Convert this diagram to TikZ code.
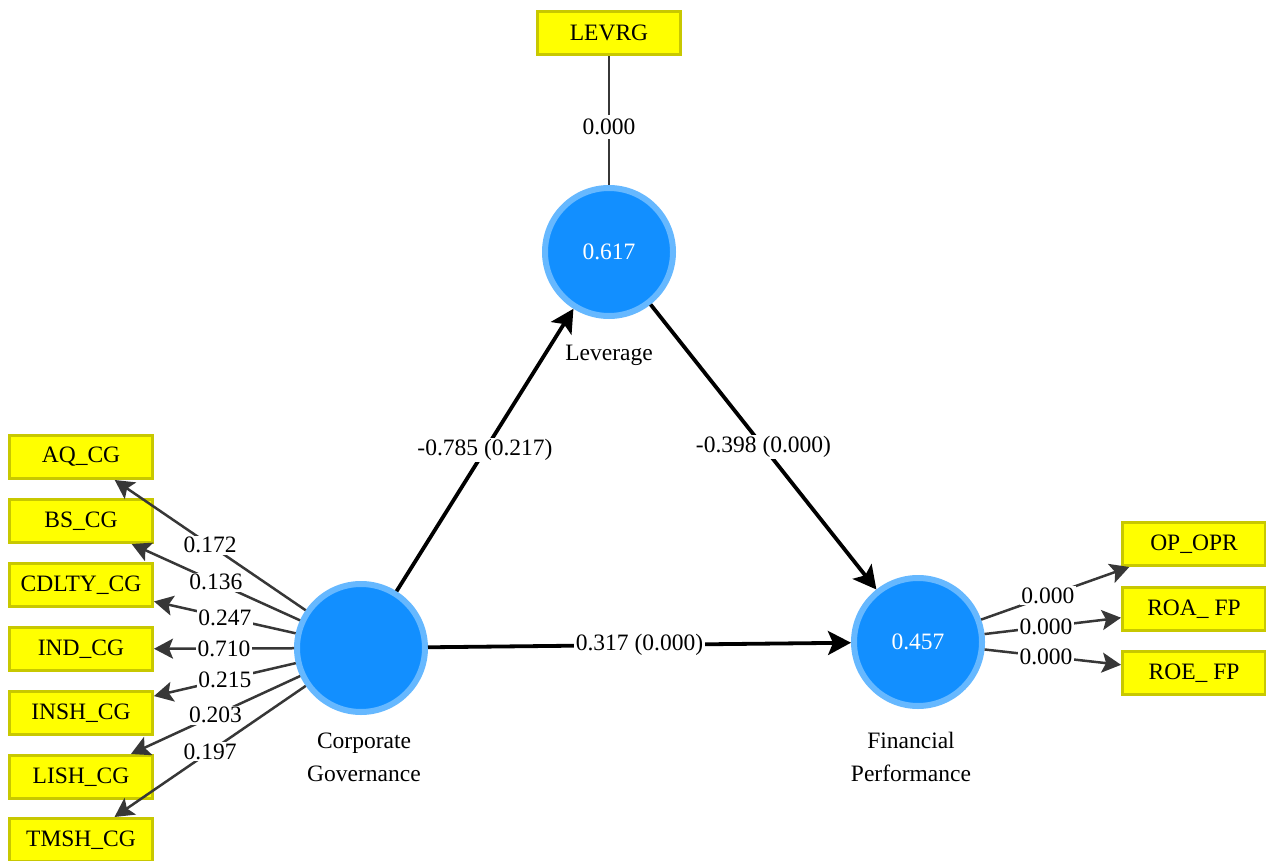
\documentclass[tikz,border=0pt]{standalone}
\usepackage{fontspec}
\setmainfont{Liberation Serif}
\usetikzlibrary{arrows.meta}
\definecolor{boxfill}{RGB}{255,255,0}
\definecolor{boxline}{RGB}{200,200,0}
\definecolor{lvfill}{RGB}{18,143,255}
\definecolor{lvring}{RGB}{102,184,255}
\definecolor{ldline}{RGB}{55,55,55}
\tikzset{
  indicator/.style={rectangle, draw=boxline, fill=boxfill, line width=3pt, minimum width=143pt, minimum height=43pt, inner sep=0pt, font=\fontsize{23.5}{25}\selectfont},
  latent/.style={circle, draw=lvring, fill=lvfill, line width=6pt, minimum size=128pt, inner sep=0pt, text=white, font=\fontsize{23.5}{25}\selectfont},
  caption/.style={font=\fontsize{23.5}{33}\selectfont, align=center},
  elabel/.style={fill=white, inner sep=1.5pt, font=\fontsize{23.5}{25}\selectfont},
  loading/.style={draw=ldline, line width=2.5pt, -{Stealth[length=19pt,width=20pt,inset=4pt]}},
  path/.style={draw=black, line width=3.8pt, -{Stealth[length=23pt,width=24pt,inset=5pt]}},
}
\begin{document}
\begin{tikzpicture}[x=1pt,y=-1pt]
\useasboundingbox (0,0) rectangle (1266,861);
\begin{scope}
\clip (0,0) rectangle (1266,861);
% latent variables
\node[latent] (lev) at (609,252) {0.617};
\node[latent] (cg) at (361,648) {};
\node[latent] (fp) at (918,642) {0.457};
\node[caption] (levcap) at (609,355) {Leverage};
\node[caption] (cgcap) at (364,757) {Corporate\\Governance};
\node[caption] (fpcap) at (911,757) {Financial\\Performance};
% indicators
\node[indicator] (levrg) at (609,33) {LEVRG};
\node[indicator] (aq) at (81,457) {AQ\_CG};
\node[indicator] (bs) at (81,521) {BS\_CG};
\node[indicator] (cd) at (81,585) {CDLTY\_CG};
\node[indicator] (ind) at (81,649) {IND\_CG};
\node[indicator] (insh) at (81,713) {INSH\_CG};
\node[indicator] (lish) at (81,777) {LISH\_CG};
\node[indicator] (tmsh) at (81,840) {TMSH\_CG};
\node[indicator] (op) at (1194,544) {OP\_OPR};
\node[indicator] (roa) at (1194,609) {ROA\_ FP};
\node[indicator] (roe) at (1194,673) {ROE\_ FP};
% loadings of corporate governance
\draw[loading] (cg) -- (aq) node[elabel, pos=0.5] {0.172};
\draw[loading] (cg) -- (bs) node[elabel, pos=0.5] {0.136};
\draw[loading] (cg) -- (cd) node[elabel, pos=0.5] {0.247};
\draw[loading] (cg) -- (ind) node[elabel, pos=0.5] {0.710};
\draw[loading] (cg) -- (insh) node[elabel, pos=0.5] {0.215};
\draw[loading] (cg) -- (lish) node[elabel, pos=0.5] {0.203};
\draw[loading] (cg) -- (tmsh) node[elabel, pos=0.5] {0.197};
% loadings of financial performance
\draw[loading] (fp) -- (op) node[elabel, pos=0.45] {0.000};
\draw[loading] (fp) -- (roa) node[elabel, pos=0.45] {0.000};
\draw[loading] (fp) -- (roe) node[elabel, pos=0.45] {0.000};
% leverage indicator
\draw[draw=ldline, line width=2.5pt] (levrg) -- (lev) node[elabel, pos=0.55, inner sep=4pt] {0.000};
% structural paths
\draw[path] (cg) -- (lev) node[elabel, pos=0.5] {-0.785 (0.217)};
\draw[path] (lev) -- (fp) node[elabel, pos=0.5] {-0.398 (0.000)};
\draw[path] (cg) -- (fp) node[elabel, pos=0.5] {0.317 (0.000)};
\end{scope}
\end{tikzpicture}
\end{document}
